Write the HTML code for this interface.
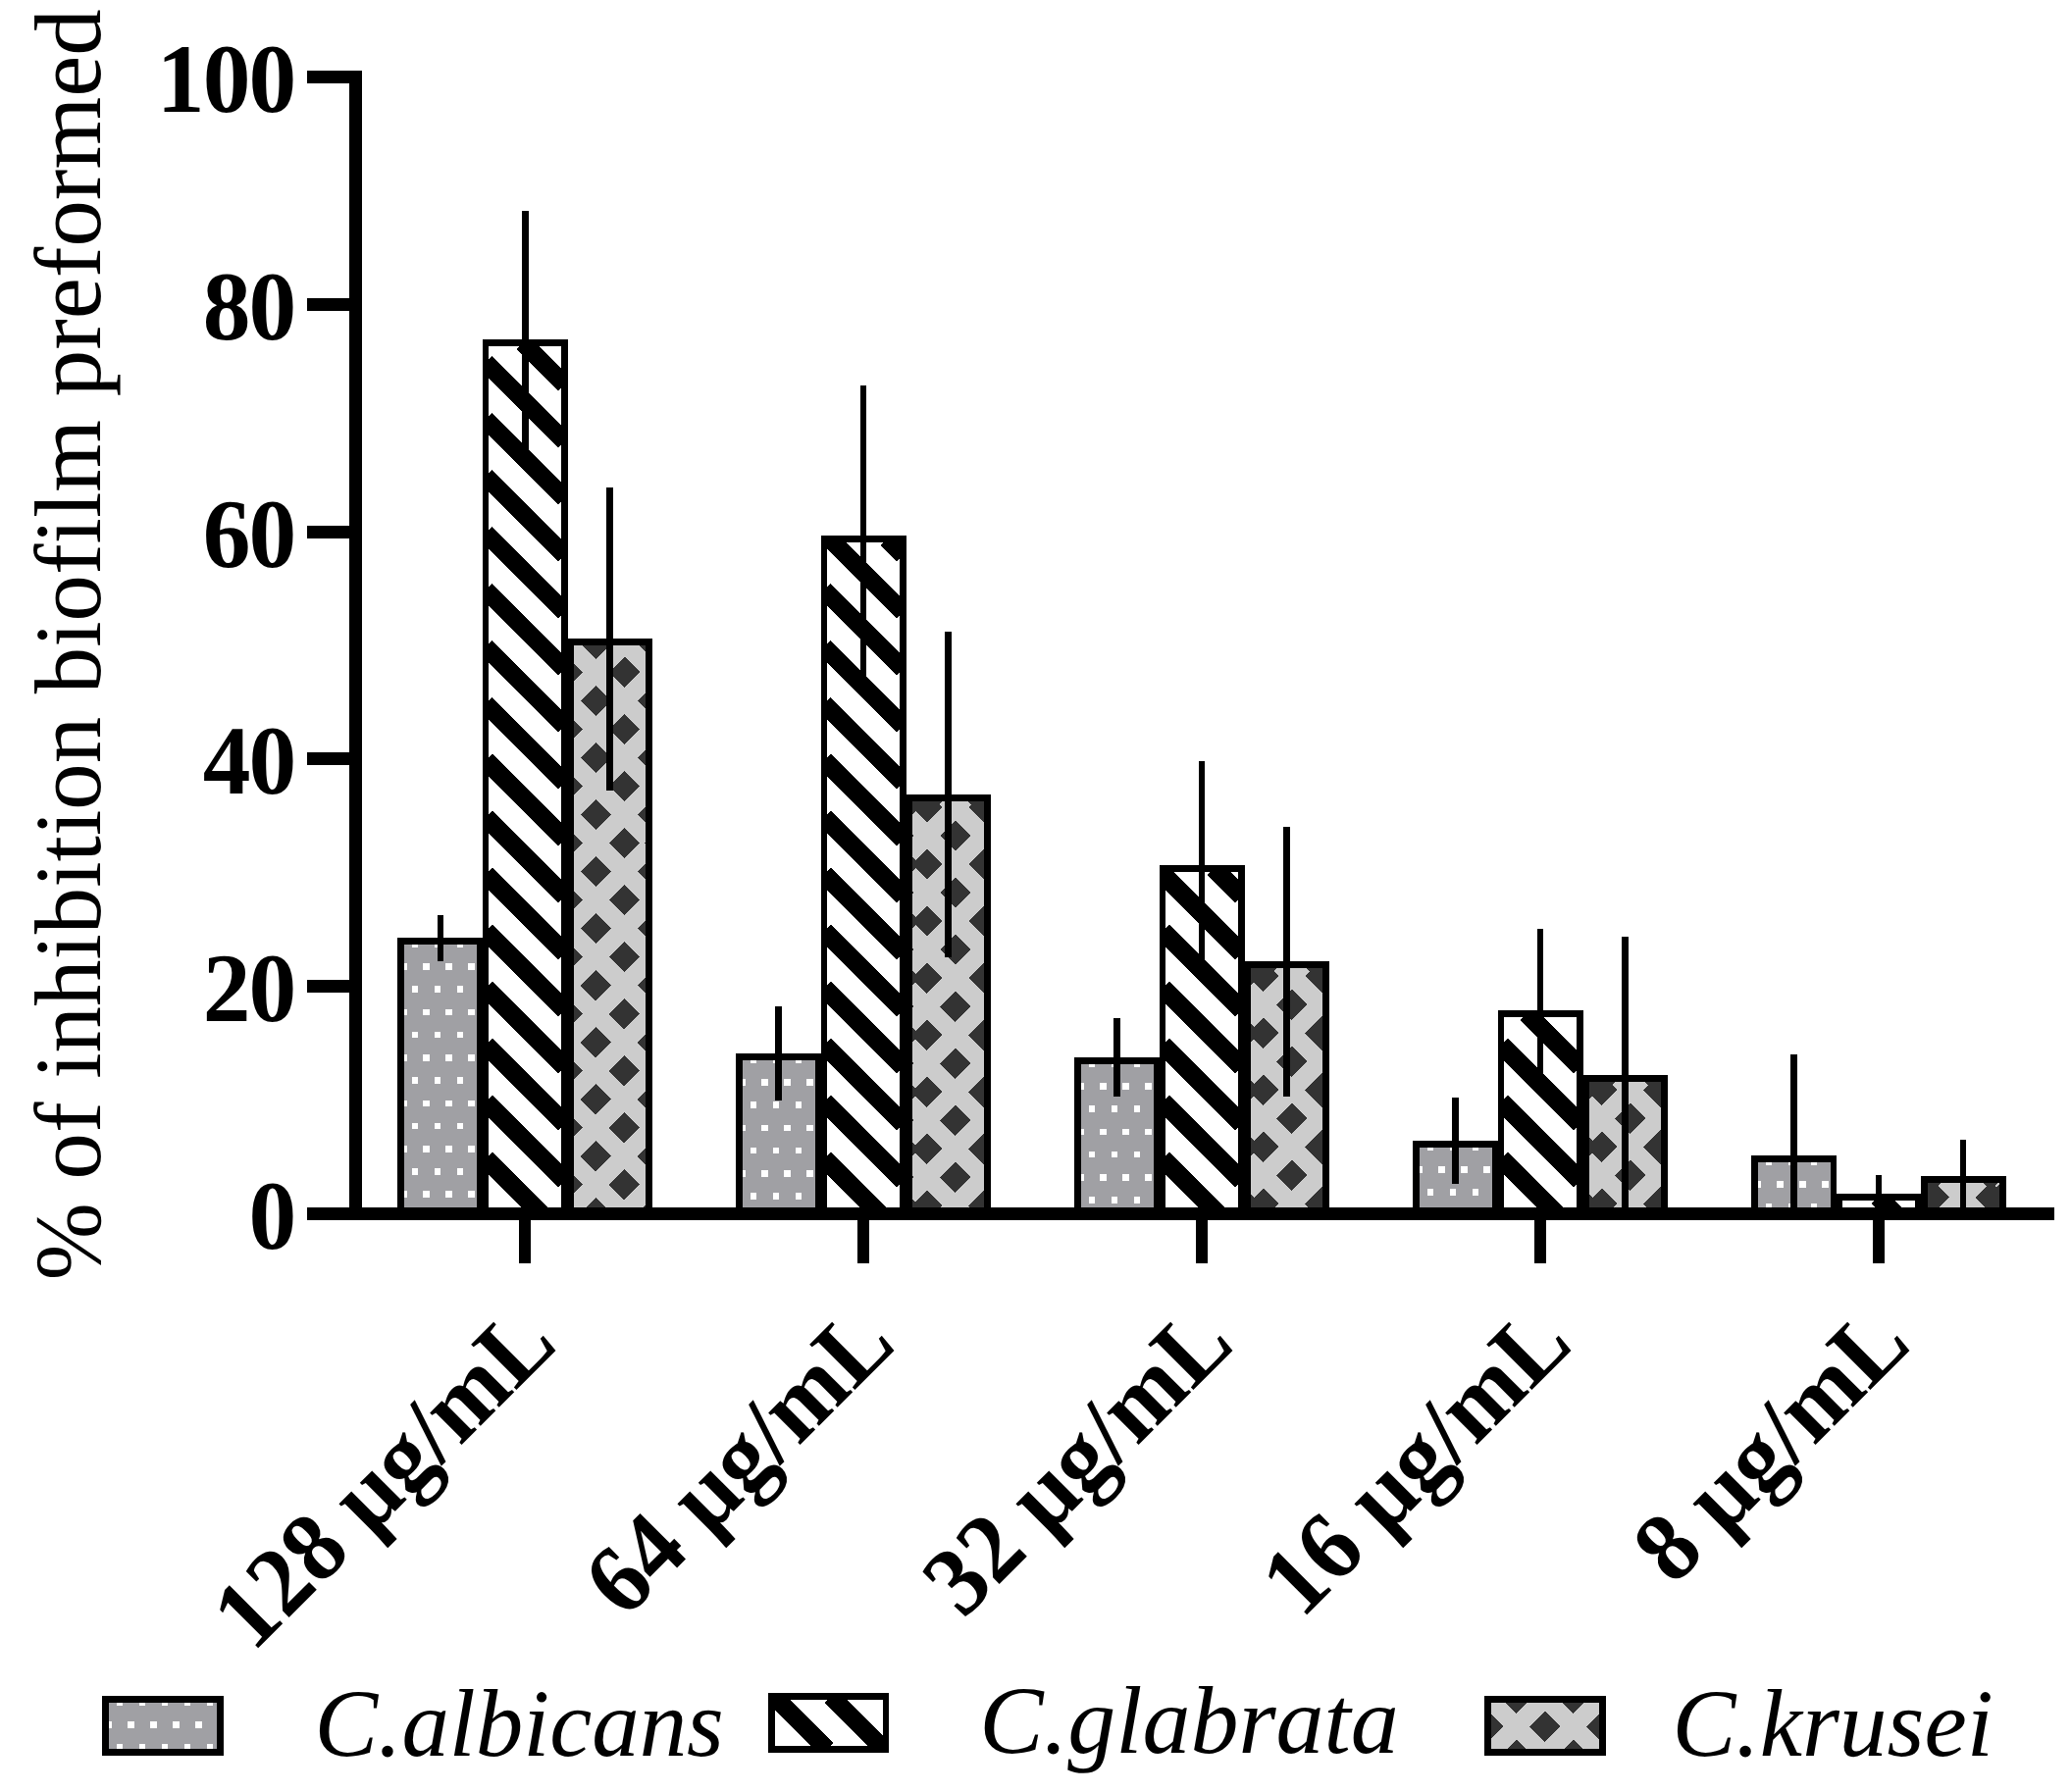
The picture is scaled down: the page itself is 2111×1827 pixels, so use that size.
<!DOCTYPE html>
<html lang="en"><head><meta charset="utf-8"><title>Inhibition of preformed biofilm</title>
<style>html,body{margin:0;padding:0;background:#fff}body{width:2111px;height:1827px;overflow:hidden}svg{display:block}</style></head>
<body>
<svg width="2111" height="1827" viewBox="0 0 2111 1827" shape-rendering="crispEdges">
<rect width="2111" height="1827" fill="#fff"/>
<rect x="405" y="956" width="87" height="281.40" fill="#000"/>
<clipPath id="c1"><rect x="412.00" y="963.00" width="74.00" height="274.40"/></clipPath>
<g clip-path="url(#c1)"><rect x="412" y="963" width="74" height="274.40" fill="#a0a0a4"/><path d="M396.70 959.00h6.6v6.6h-6.6zM419.70 959.00h6.6v6.6h-6.6zM442.70 959.00h6.6v6.6h-6.6zM465.70 959.00h6.6v6.6h-6.6zM385.20 982.22h6.6v6.6h-6.6zM408.20 982.22h6.6v6.6h-6.6zM431.20 982.22h6.6v6.6h-6.6zM454.20 982.22h6.6v6.6h-6.6zM477.20 982.22h6.6v6.6h-6.6zM396.70 1005.44h6.6v6.6h-6.6zM419.70 1005.44h6.6v6.6h-6.6zM442.70 1005.44h6.6v6.6h-6.6zM465.70 1005.44h6.6v6.6h-6.6zM385.20 1028.66h6.6v6.6h-6.6zM408.20 1028.66h6.6v6.6h-6.6zM431.20 1028.66h6.6v6.6h-6.6zM454.20 1028.66h6.6v6.6h-6.6zM477.20 1028.66h6.6v6.6h-6.6zM396.70 1051.88h6.6v6.6h-6.6zM419.70 1051.88h6.6v6.6h-6.6zM442.70 1051.88h6.6v6.6h-6.6zM465.70 1051.88h6.6v6.6h-6.6zM385.20 1075.10h6.6v6.6h-6.6zM408.20 1075.10h6.6v6.6h-6.6zM431.20 1075.10h6.6v6.6h-6.6zM454.20 1075.10h6.6v6.6h-6.6zM477.20 1075.10h6.6v6.6h-6.6zM396.70 1098.32h6.6v6.6h-6.6zM419.70 1098.32h6.6v6.6h-6.6zM442.70 1098.32h6.6v6.6h-6.6zM465.70 1098.32h6.6v6.6h-6.6zM385.20 1121.54h6.6v6.6h-6.6zM408.20 1121.54h6.6v6.6h-6.6zM431.20 1121.54h6.6v6.6h-6.6zM454.20 1121.54h6.6v6.6h-6.6zM477.20 1121.54h6.6v6.6h-6.6zM396.70 1144.76h6.6v6.6h-6.6zM419.70 1144.76h6.6v6.6h-6.6zM442.70 1144.76h6.6v6.6h-6.6zM465.70 1144.76h6.6v6.6h-6.6zM385.20 1167.98h6.6v6.6h-6.6zM408.20 1167.98h6.6v6.6h-6.6zM431.20 1167.98h6.6v6.6h-6.6zM454.20 1167.98h6.6v6.6h-6.6zM477.20 1167.98h6.6v6.6h-6.6zM396.70 1191.20h6.6v6.6h-6.6zM419.70 1191.20h6.6v6.6h-6.6zM442.70 1191.20h6.6v6.6h-6.6zM465.70 1191.20h6.6v6.6h-6.6zM385.20 1214.42h6.6v6.6h-6.6zM408.20 1214.42h6.6v6.6h-6.6zM431.20 1214.42h6.6v6.6h-6.6zM454.20 1214.42h6.6v6.6h-6.6zM477.20 1214.42h6.6v6.6h-6.6z" fill="#fff"/></g>
<rect x="492" y="346" width="87" height="891.40" fill="#000"/>
<clipPath id="c2"><rect x="498.00" y="353.00" width="74.00" height="884.40"/></clipPath>
<g clip-path="url(#c2)"><rect x="498" y="353" width="74" height="884.40" fill="#fff"/><path d="M495.00 1181.12L551.28 1237.40M495.00 1123.14L575.50 1203.64M495.00 1065.16L575.50 1145.66M495.00 1007.18L575.50 1087.68M495.00 949.20L575.50 1029.70M495.00 891.22L575.50 971.72M495.00 833.24L575.50 913.74M495.00 775.26L575.50 855.76M495.00 717.28L575.50 797.78M495.00 659.30L575.50 739.80M495.00 601.32L575.50 681.82M495.00 543.34L575.50 623.84M495.00 485.36L575.50 565.86M495.00 427.38L575.50 507.88M495.00 369.40L575.50 449.90M533.08 349.50L575.50 391.92" stroke="#000" stroke-width="18.74" fill="none"/></g>
<rect x="578" y="651" width="87" height="586.40" fill="#000"/>
<clipPath id="c3"><rect x="585.00" y="658.00" width="73.00" height="579.40"/></clipPath>
<g clip-path="url(#c3)"><rect x="585" y="658" width="73" height="579.40" fill="#333"/><path d="M581.50 1181.85L637.05 1237.40M581.50 1123.80L661.50 1203.80M581.50 1065.75L661.50 1145.75M581.50 1007.70L661.50 1087.70M581.50 949.65L661.50 1029.65M581.50 891.60L661.50 971.60M581.50 833.55L661.50 913.55M581.50 775.50L661.50 855.50M581.50 717.45L661.50 797.45M581.50 659.40L661.50 739.40M634.65 654.50L661.50 681.35" stroke="#ccc" stroke-width="18.6" fill="none"/><path d="M581.50 711.35L638.35 654.50M581.50 769.40L661.50 689.40M581.50 827.45L661.50 747.45M581.50 885.50L661.50 805.50M581.50 943.55L661.50 863.55M581.50 1001.60L661.50 921.60M581.50 1059.65L661.50 979.65M581.50 1117.70L661.50 1037.70M581.50 1175.75L661.50 1095.75M581.50 1233.80L661.50 1153.80M635.95 1237.40L661.50 1211.85" stroke="#ccc" stroke-width="19.0" fill="none"/></g>
<rect x="750" y="1074" width="87" height="163.40" fill="#000"/>
<clipPath id="c4"><rect x="757.00" y="1081.00" width="74.00" height="156.40"/></clipPath>
<g clip-path="url(#c4)"><rect x="757" y="1081" width="74" height="156.40" fill="#a0a0a4"/><path d="M741.70 1077.00h6.6v6.6h-6.6zM764.70 1077.00h6.6v6.6h-6.6zM787.70 1077.00h6.6v6.6h-6.6zM810.70 1077.00h6.6v6.6h-6.6zM730.20 1100.22h6.6v6.6h-6.6zM753.20 1100.22h6.6v6.6h-6.6zM776.20 1100.22h6.6v6.6h-6.6zM799.20 1100.22h6.6v6.6h-6.6zM822.20 1100.22h6.6v6.6h-6.6zM741.70 1123.44h6.6v6.6h-6.6zM764.70 1123.44h6.6v6.6h-6.6zM787.70 1123.44h6.6v6.6h-6.6zM810.70 1123.44h6.6v6.6h-6.6zM730.20 1146.66h6.6v6.6h-6.6zM753.20 1146.66h6.6v6.6h-6.6zM776.20 1146.66h6.6v6.6h-6.6zM799.20 1146.66h6.6v6.6h-6.6zM822.20 1146.66h6.6v6.6h-6.6zM741.70 1169.88h6.6v6.6h-6.6zM764.70 1169.88h6.6v6.6h-6.6zM787.70 1169.88h6.6v6.6h-6.6zM810.70 1169.88h6.6v6.6h-6.6zM730.20 1193.10h6.6v6.6h-6.6zM753.20 1193.10h6.6v6.6h-6.6zM776.20 1193.10h6.6v6.6h-6.6zM799.20 1193.10h6.6v6.6h-6.6zM822.20 1193.10h6.6v6.6h-6.6zM741.70 1216.32h6.6v6.6h-6.6zM764.70 1216.32h6.6v6.6h-6.6zM787.70 1216.32h6.6v6.6h-6.6zM810.70 1216.32h6.6v6.6h-6.6z" fill="#fff"/></g>
<rect x="837" y="546" width="87" height="691.40" fill="#000"/>
<clipPath id="c5"><rect x="843.00" y="553.00" width="74.00" height="684.40"/></clipPath>
<g clip-path="url(#c5)"><rect x="843" y="553" width="74" height="684.40" fill="#fff"/><path d="M840.00 1181.12L896.28 1237.40M840.00 1123.14L920.50 1203.64M840.00 1065.16L920.50 1145.66M840.00 1007.18L920.50 1087.68M840.00 949.20L920.50 1029.70M840.00 891.22L920.50 971.72M840.00 833.24L920.50 913.74M840.00 775.26L920.50 855.76M840.00 717.28L920.50 797.78M840.00 659.30L920.50 739.80M840.00 601.32L920.50 681.82M846.16 549.50L920.50 623.84M904.14 549.50L920.50 565.86" stroke="#000" stroke-width="18.74" fill="none"/></g>
<rect x="923" y="810" width="87" height="427.40" fill="#000"/>
<clipPath id="c6"><rect x="930.00" y="817.00" width="73.00" height="420.40"/></clipPath>
<g clip-path="url(#c6)"><rect x="930" y="817" width="73" height="420.40" fill="#333"/><path d="M926.50 1181.85L982.05 1237.40M926.50 1123.80L1006.50 1203.80M926.50 1065.75L1006.50 1145.75M926.50 1007.70L1006.50 1087.70M926.50 949.65L1006.50 1029.65M926.50 891.60L1006.50 971.60M926.50 833.55L1006.50 913.55M964.50 813.50L1006.50 855.50" stroke="#ccc" stroke-width="18.6" fill="none"/><path d="M926.50 870.35L983.35 813.50M926.50 928.40L1006.50 848.40M926.50 986.45L1006.50 906.45M926.50 1044.50L1006.50 964.50M926.50 1102.55L1006.50 1022.55M926.50 1160.60L1006.50 1080.60M926.50 1218.65L1006.50 1138.65M965.80 1237.40L1006.50 1196.70" stroke="#ccc" stroke-width="19.0" fill="none"/></g>
<rect x="1095" y="1078" width="87" height="159.40" fill="#000"/>
<clipPath id="c7"><rect x="1102.00" y="1085.00" width="74.00" height="152.40"/></clipPath>
<g clip-path="url(#c7)"><rect x="1102" y="1085" width="74" height="152.40" fill="#a0a0a4"/><path d="M1086.70 1081.00h6.6v6.6h-6.6zM1109.70 1081.00h6.6v6.6h-6.6zM1132.70 1081.00h6.6v6.6h-6.6zM1155.70 1081.00h6.6v6.6h-6.6zM1075.20 1104.22h6.6v6.6h-6.6zM1098.20 1104.22h6.6v6.6h-6.6zM1121.20 1104.22h6.6v6.6h-6.6zM1144.20 1104.22h6.6v6.6h-6.6zM1167.20 1104.22h6.6v6.6h-6.6zM1086.70 1127.44h6.6v6.6h-6.6zM1109.70 1127.44h6.6v6.6h-6.6zM1132.70 1127.44h6.6v6.6h-6.6zM1155.70 1127.44h6.6v6.6h-6.6zM1075.20 1150.66h6.6v6.6h-6.6zM1098.20 1150.66h6.6v6.6h-6.6zM1121.20 1150.66h6.6v6.6h-6.6zM1144.20 1150.66h6.6v6.6h-6.6zM1167.20 1150.66h6.6v6.6h-6.6zM1086.70 1173.88h6.6v6.6h-6.6zM1109.70 1173.88h6.6v6.6h-6.6zM1132.70 1173.88h6.6v6.6h-6.6zM1155.70 1173.88h6.6v6.6h-6.6zM1075.20 1197.10h6.6v6.6h-6.6zM1098.20 1197.10h6.6v6.6h-6.6zM1121.20 1197.10h6.6v6.6h-6.6zM1144.20 1197.10h6.6v6.6h-6.6zM1167.20 1197.10h6.6v6.6h-6.6zM1086.70 1220.32h6.6v6.6h-6.6zM1109.70 1220.32h6.6v6.6h-6.6zM1132.70 1220.32h6.6v6.6h-6.6zM1155.70 1220.32h6.6v6.6h-6.6z" fill="#fff"/></g>
<rect x="1182" y="882" width="87" height="355.40" fill="#000"/>
<clipPath id="c8"><rect x="1188.00" y="889.00" width="74.00" height="348.40"/></clipPath>
<g clip-path="url(#c8)"><rect x="1188" y="889" width="74" height="348.40" fill="#fff"/><path d="M1185.00 1181.12L1241.28 1237.40M1185.00 1123.14L1265.50 1203.64M1185.00 1065.16L1265.50 1145.66M1185.00 1007.18L1265.50 1087.68M1185.00 949.20L1265.50 1029.70M1185.00 891.22L1265.50 971.72M1237.26 885.50L1265.50 913.74" stroke="#000" stroke-width="18.74" fill="none"/></g>
<rect x="1268" y="980" width="87" height="257.40" fill="#000"/>
<clipPath id="c9"><rect x="1275.00" y="987.00" width="73.00" height="250.40"/></clipPath>
<g clip-path="url(#c9)"><rect x="1275" y="987" width="73" height="250.40" fill="#333"/><path d="M1271.50 1181.85L1327.05 1237.40M1271.50 1123.80L1351.50 1203.80M1271.50 1065.75L1351.50 1145.75M1271.50 1007.70L1351.50 1087.70M1305.35 983.50L1351.50 1029.65" stroke="#ccc" stroke-width="18.6" fill="none"/><path d="M1271.50 1040.35L1328.35 983.50M1271.50 1098.40L1351.50 1018.40M1271.50 1156.45L1351.50 1076.45M1271.50 1214.50L1351.50 1134.50M1306.65 1237.40L1351.50 1192.55" stroke="#ccc" stroke-width="19.0" fill="none"/></g>
<rect x="1440" y="1163" width="87" height="74.40" fill="#000"/>
<clipPath id="c10"><rect x="1447.00" y="1170.00" width="74.00" height="67.40"/></clipPath>
<g clip-path="url(#c10)"><rect x="1447" y="1170" width="74" height="67.40" fill="#a0a0a4"/><path d="M1431.70 1166.00h6.6v6.6h-6.6zM1454.70 1166.00h6.6v6.6h-6.6zM1477.70 1166.00h6.6v6.6h-6.6zM1500.70 1166.00h6.6v6.6h-6.6zM1420.20 1189.22h6.6v6.6h-6.6zM1443.20 1189.22h6.6v6.6h-6.6zM1466.20 1189.22h6.6v6.6h-6.6zM1489.20 1189.22h6.6v6.6h-6.6zM1512.20 1189.22h6.6v6.6h-6.6zM1431.70 1212.44h6.6v6.6h-6.6zM1454.70 1212.44h6.6v6.6h-6.6zM1477.70 1212.44h6.6v6.6h-6.6zM1500.70 1212.44h6.6v6.6h-6.6zM1420.20 1235.66h6.6v6.6h-6.6zM1443.20 1235.66h6.6v6.6h-6.6zM1466.20 1235.66h6.6v6.6h-6.6zM1489.20 1235.66h6.6v6.6h-6.6zM1512.20 1235.66h6.6v6.6h-6.6z" fill="#fff"/></g>
<rect x="1527" y="1030" width="87" height="207.40" fill="#000"/>
<clipPath id="c11"><rect x="1533.00" y="1037.00" width="74.00" height="200.40"/></clipPath>
<g clip-path="url(#c11)"><rect x="1533" y="1037" width="74" height="200.40" fill="#fff"/><path d="M1530.00 1181.12L1586.28 1237.40M1530.00 1123.14L1610.50 1203.64M1530.00 1065.16L1610.50 1145.66M1556.32 1033.50L1610.50 1087.68" stroke="#000" stroke-width="18.74" fill="none"/></g>
<rect x="1613" y="1096" width="87" height="141.40" fill="#000"/>
<clipPath id="c12"><rect x="1620.00" y="1103.00" width="73.00" height="134.40"/></clipPath>
<g clip-path="url(#c12)"><rect x="1620" y="1103" width="73" height="134.40" fill="#333"/><path d="M1616.50 1181.85L1672.05 1237.40M1616.50 1123.80L1696.50 1203.80M1650.25 1099.50L1696.50 1145.75" stroke="#ccc" stroke-width="18.6" fill="none"/><path d="M1616.50 1156.35L1673.35 1099.50M1616.50 1214.40L1696.50 1134.40M1651.55 1237.40L1696.50 1192.45" stroke="#ccc" stroke-width="19.0" fill="none"/></g>
<rect x="1785" y="1178" width="87" height="59.40" fill="#000"/>
<clipPath id="c13"><rect x="1792.00" y="1185.00" width="74.00" height="52.40"/></clipPath>
<g clip-path="url(#c13)"><rect x="1792" y="1185" width="74" height="52.40" fill="#a0a0a4"/><path d="M1776.70 1181.00h6.6v6.6h-6.6zM1799.70 1181.00h6.6v6.6h-6.6zM1822.70 1181.00h6.6v6.6h-6.6zM1845.70 1181.00h6.6v6.6h-6.6zM1765.20 1204.22h6.6v6.6h-6.6zM1788.20 1204.22h6.6v6.6h-6.6zM1811.20 1204.22h6.6v6.6h-6.6zM1834.20 1204.22h6.6v6.6h-6.6zM1857.20 1204.22h6.6v6.6h-6.6zM1776.70 1227.44h6.6v6.6h-6.6zM1799.70 1227.44h6.6v6.6h-6.6zM1822.70 1227.44h6.6v6.6h-6.6zM1845.70 1227.44h6.6v6.6h-6.6z" fill="#fff"/></g>
<rect x="1872" y="1217" width="87" height="20.40" fill="#000"/>
<clipPath id="c14"><rect x="1878.00" y="1224.00" width="74.00" height="13.40"/></clipPath>
<g clip-path="url(#c14)"><rect x="1878" y="1224" width="74" height="13.40" fill="#fff"/><path d="M1914.38 1220.50L1931.28 1237.40" stroke="#000" stroke-width="18.74" fill="none"/></g>
<rect x="1958" y="1199" width="87" height="38.40" fill="#000"/>
<clipPath id="c15"><rect x="1965.00" y="1206.00" width="73.00" height="31.40"/></clipPath>
<g clip-path="url(#c15)"><rect x="1965" y="1206" width="73" height="31.40" fill="#333"/><path d="M1982.15 1202.50L2017.05 1237.40M2040.20 1202.50L2041.50 1203.80" stroke="#ccc" stroke-width="18.6" fill="none"/><path d="M1983.45 1237.40L2018.35 1202.50M2041.50 1237.40L2041.50 1237.40" stroke="#ccc" stroke-width="19.0" fill="none"/></g>
<rect x="446" y="932.80" width="6" height="47.10" fill="#000"/>
<rect x="532" y="214.80" width="7" height="244.30" fill="#000"/>
<rect x="618" y="496.80" width="7" height="308.90" fill="#000"/>
<rect x="790" y="1026.00" width="7" height="95.90" fill="#000"/>
<rect x="877" y="392.50" width="6" height="297.10" fill="#000"/>
<rect x="963" y="643.70" width="7" height="332.30" fill="#000"/>
<rect x="1135" y="1038.00" width="7" height="79.70" fill="#000"/>
<rect x="1222" y="776.00" width="6" height="204.20" fill="#000"/>
<rect x="1308" y="842.90" width="7" height="274.80" fill="#000"/>
<rect x="1480" y="1118.90" width="7" height="87.70" fill="#000"/>
<rect x="1567" y="946.90" width="6" height="148.60" fill="#000"/>
<rect x="1653" y="955.00" width="7" height="282.00" fill="#000"/>
<rect x="1825" y="1074.90" width="7" height="162.10" fill="#000"/>
<rect x="1912" y="1198.00" width="6" height="39.00" fill="#000"/>
<rect x="1998" y="1161.70" width="6" height="75.30" fill="#000"/>
<rect x="356" y="72" width="13" height="1172" fill="#000"/>
<rect x="313" y="1231" width="1781" height="13" fill="#000"/>
<rect x="313" y="72.00" width="50" height="13" fill="#000"/>
<rect x="313" y="303.80" width="50" height="13" fill="#000"/>
<rect x="313" y="535.60" width="50" height="13" fill="#000"/>
<rect x="313" y="767.40" width="50" height="13" fill="#000"/>
<rect x="313" y="999.20" width="50" height="13" fill="#000"/>
<rect x="313" y="1231.00" width="50" height="13" fill="#000"/>
<rect x="528.75" y="1240" width="12.5" height="48" fill="#000"/>
<rect x="873.75" y="1240" width="12.5" height="48" fill="#000"/>
<rect x="1218.75" y="1240" width="12.5" height="48" fill="#000"/>
<rect x="1563.75" y="1240" width="12.5" height="48" fill="#000"/>
<rect x="1908.75" y="1240" width="12.5" height="48" fill="#000"/>
<rect x="104" y="1729" width="124" height="61.00" fill="#000"/>
<clipPath id="c16"><rect x="111.00" y="1736.00" width="110.00" height="47.00"/></clipPath>
<g clip-path="url(#c16)"><rect x="111" y="1736" width="110" height="47.00" fill="#a0a0a4"/><path d="M95.70 1732.00h6.6v6.6h-6.6zM118.70 1732.00h6.6v6.6h-6.6zM141.70 1732.00h6.6v6.6h-6.6zM164.70 1732.00h6.6v6.6h-6.6zM187.70 1732.00h6.6v6.6h-6.6zM210.70 1732.00h6.6v6.6h-6.6zM84.20 1755.22h6.6v6.6h-6.6zM107.20 1755.22h6.6v6.6h-6.6zM130.20 1755.22h6.6v6.6h-6.6zM153.20 1755.22h6.6v6.6h-6.6zM176.20 1755.22h6.6v6.6h-6.6zM199.20 1755.22h6.6v6.6h-6.6zM95.70 1778.44h6.6v6.6h-6.6zM118.70 1778.44h6.6v6.6h-6.6zM141.70 1778.44h6.6v6.6h-6.6zM164.70 1778.44h6.6v6.6h-6.6zM187.70 1778.44h6.6v6.6h-6.6zM210.70 1778.44h6.6v6.6h-6.6z" fill="#fff"/></g>
<rect x="783" y="1726" width="123" height="61.00" fill="#000"/>
<clipPath id="c17"><rect x="790.00" y="1733.00" width="110.00" height="47.00"/></clipPath>
<g clip-path="url(#c17)"><rect x="790" y="1733" width="110" height="47.00" fill="#fff"/><path d="M788.78 1729.50L842.78 1783.50M846.76 1729.50L900.76 1783.50" stroke="#000" stroke-width="18.74" fill="none"/></g>
<rect x="1513" y="1729" width="124" height="61.00" fill="#000"/>
<clipPath id="c18"><rect x="1520.00" y="1736.00" width="110.00" height="47.00"/></clipPath>
<g clip-path="url(#c18)"><rect x="1520" y="1736" width="110" height="47.00" fill="#333"/><path d="M1518.05 1732.50L1572.05 1786.50M1576.10 1732.50L1630.10 1786.50" stroke="#ccc" stroke-width="18.6" fill="none"/><path d="M1519.35 1786.50L1573.35 1732.50M1577.40 1786.50L1631.40 1732.50" stroke="#ccc" stroke-width="19.0" fill="none"/></g>
<g fill="#000" font-family="'Liberation Serif', 'Times New Roman', serif" text-rendering="geometricPrecision" style="font-variant-ligatures:none;font-feature-settings:'liga' 0,'clig' 0,'dlig' 0;font-kerning:none">
<text transform="translate(102.0 1305.2) rotate(-90) scale(0.9828 1)" font-size="96.5" xml:space="preserve">% of inhibition biofilm preformed</text>
<text transform="translate(300.5 114.00) scale(0.975 1)" font-size="100" font-weight="bold" text-anchor="end" letter-spacing="-1.9">100</text>
<text transform="translate(300.5 345.80) scale(0.975 1)" font-size="100" font-weight="bold" text-anchor="end" letter-spacing="-1.9">80</text>
<text transform="translate(300.5 577.60) scale(0.975 1)" font-size="100" font-weight="bold" text-anchor="end" letter-spacing="-1.9">60</text>
<text transform="translate(300.5 809.40) scale(0.975 1)" font-size="100" font-weight="bold" text-anchor="end" letter-spacing="-1.9">40</text>
<text transform="translate(300.5 1041.20) scale(0.975 1)" font-size="100" font-weight="bold" text-anchor="end" letter-spacing="-1.9">20</text>
<text transform="translate(300.5 1273.00) scale(0.975 1)" font-size="100" font-weight="bold" text-anchor="end" letter-spacing="-1.9">0</text>
<text transform="translate(570.60 1372.8) rotate(-45) scale(0.961 1)" font-size="100" font-weight="bold" text-anchor="end" xml:space="preserve">128 µg/mL</text>
<text transform="translate(915.60 1372.8) rotate(-45) scale(0.961 1)" font-size="100" font-weight="bold" text-anchor="end" xml:space="preserve">64 µg/mL</text>
<text transform="translate(1260.60 1372.8) rotate(-45) scale(0.961 1)" font-size="100" font-weight="bold" text-anchor="end" xml:space="preserve">32 µg/mL</text>
<text transform="translate(1605.60 1372.8) rotate(-45) scale(0.961 1)" font-size="100" font-weight="bold" text-anchor="end" xml:space="preserve">16 µg/mL</text>
<text transform="translate(1950.60 1372.8) rotate(-45) scale(0.961 1)" font-size="100" font-weight="bold" text-anchor="end" xml:space="preserve">8 µg/mL</text>
<text transform="translate(320.5 1789.6) scale(0.989 1)" font-size="98" font-style="italic">C.albicans</text>
<text transform="translate(998.3 1787.0) scale(1.0 1)" font-size="98" font-style="italic">C.glabrata</text>
<text transform="translate(1704.4 1789.6) scale(0.994 1)" font-size="98" font-style="italic">C.krusei</text>
</g>
</svg>
</body></html>
